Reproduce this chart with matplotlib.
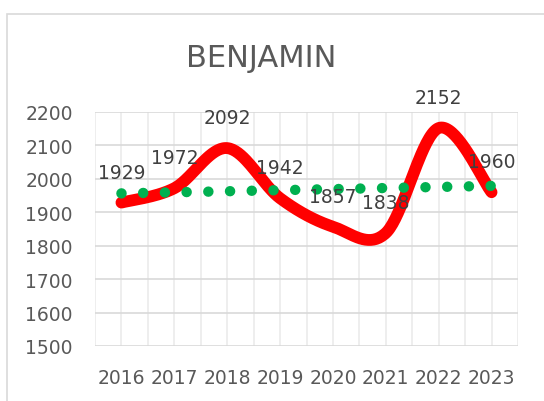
import matplotlib
matplotlib.use("Agg")
import matplotlib.pyplot as plt
import numpy as np
from matplotlib.patches import Rectangle

years = ["2016", "2017", "2018", "2019", "2020", "2021", "2022", "2023"]
values = [1929, 1972, 2092, 1942, 1857, 1838, 2152, 1960]
title = "BENJAMIN"


def smooth(xs, ys, n=40):
    # Excel-style smoothed line: Catmull-Rom through bezier segments
    pts = np.column_stack([xs, ys]).astype(float)
    ext = np.vstack([pts[0], pts, pts[-1]])
    out = []
    for i in range(len(pts) - 1):
        p0, p1, p2, p3 = ext[i], ext[i + 1], ext[i + 2], ext[i + 3]
        b1 = p1 + (p2 - p0) / 6
        b2 = p2 - (p3 - p1) / 6
        t = np.linspace(0, 1, n)[:, None]
        seg = ((1 - t) ** 3) * p1 + 3 * ((1 - t) ** 2) * t * b1 + 3 * (1 - t) * t ** 2 * b2 + t ** 3 * p2
        out.append(seg if i == 0 else seg[1:])
    out = np.vstack(out)
    return out[:, 0], out[:, 1]


plt.rcParams["font.family"] = "DejaVu Sans"
fig = plt.figure(figsize=(5.44, 4.02), dpi=100)
fig.patches.append(Rectangle((7 / 544, -0.05), 1.2, 1 - 15 / 402 + 0.05,
                             transform=fig.transFigure, fill=False,
                             edgecolor="#D9D9D9", linewidth=1.2))
ax = fig.add_axes([95 / 544, 1 - 347 / 402, 423 / 544, 234 / 402])

x = np.arange(len(values))
sx, sy = smooth(x, values)
ax.plot(sx, sy, color="#FF0000", linewidth=8.5, solid_capstyle="round",
        solid_joinstyle="round", zorder=3)

# linear trendline, round dots
k, b = np.polyfit(x, values, 1)
tx = np.array([x[0], x[-1]])
ax.plot(tx, k * tx + b, color="#00B050", linewidth=7.5, linestyle=(0, (0.01, 2.075)),
        dash_capstyle="round", zorder=4)

for xi, v in zip(x, values):
    ax.annotate(str(v), (xi, v), xytext=(0, 22), textcoords="offset points",
                ha="center", va="center", fontsize=13.5, color="#404040", zorder=5)

ax.set_xlim(-0.5, len(values) - 0.5)
ax.set_ylim(1500, 2200)
ax.set_yticks(range(1500, 2201, 100))
ax.set_xticks(x)
ax.set_xticklabels(years)
for gx in np.arange(-0.5, len(values), 0.5):
    ax.axvline(gx, color="#EBEBEB", linewidth=1.2, zorder=1)
for gy in range(1500, 2201, 100):
    ax.axhline(gy, color="#D9D9D9", linewidth=1.2, zorder=1)
for s in ax.spines.values():
    s.set_visible(False)
ax.tick_params(length=0, labelsize=13.5, labelcolor="#595959", pad=16)

fig.text(261 / 544, 1 - 59 / 402, title, ha="center", va="center",
         fontsize=22, color="#595959")

fig.savefig("out.png", dpi=100)
